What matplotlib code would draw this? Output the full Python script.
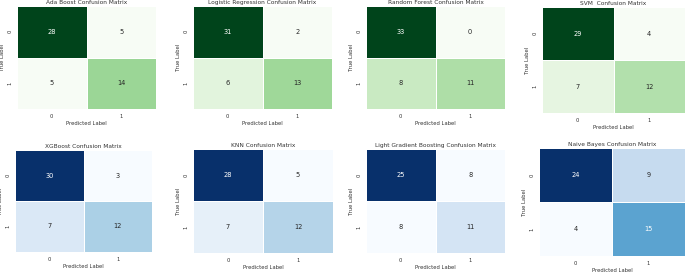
import matplotlib
matplotlib.use('Agg')
import matplotlib.pyplot as plt
import seaborn as sns
import numpy as np

# Confusion matrices: [[TN, FP], [FN, TP]]
models = ['Ada Boost', 'Logistic Regression', 'Random Forest', 'SVM ',
          'XGBoost', 'KNN', 'Light Gradient Boosting', 'Naive Bayes']
ada = [[28, 5], [5, 14]]
logreg = [[31, 2], [6, 13]]
forest = [[33, 0], [8, 11]]
svm = [[29, 4], [7, 12]]
xgb = [[30, 3], [7, 12]]
knn = [[28, 5], [7, 12]]
lgbm = [[25, 8], [8, 11]]
bayes = [[24, 9], [4, 15]]
matrices = [ada, logreg, forest, svm, xgb, knn, lgbm, bayes]
cmaps = ['Greens'] * 4 + ['Blues'] * 4
class_labels = ['0', '1']

W, H = 685, 272
fig = plt.figure(figsize=(W / 100, H / 100), dpi=100)

# heatmap boxes in pixels (left, top, right, bottom)
boxes = [(17, 6, 156, 109), (193, 6, 332, 109), (366, 6, 505, 109), (542, 7, 685, 113),
         (15, 150, 152, 252), (193, 149, 333, 253), (366, 149, 505, 253), (539, 148, 685, 256)]

fs = 3.8
txt = '#333333'
for name, cm, cmap, (l, t, r, b) in zip(models, matrices, cmaps, boxes):
    ax = fig.add_axes([l / W, 1 - b / H, (r - l) / W, (b - t) / H])
    sns.heatmap(np.array(cm), annot=True, fmt='d', cmap=cmap, cbar=False,
                linewidths=0.6, linecolor='white', ax=ax,
                xticklabels=class_labels, yticklabels=class_labels,
                annot_kws={'fontsize': 4.8})
    ax.set_title(f'{name} Confusion Matrix', fontsize=4.2, pad=1.5, color=txt)
    ax.set_xlabel('Predicted Label', fontsize=fs, labelpad=1.5, color=txt)
    ax.set_ylabel('True Label', fontsize=fs, labelpad=1.5, color=txt)
    ax.tick_params(length=0, labelsize=fs, pad=3.5, labelcolor=txt)
    for lab in ax.get_yticklabels():
        lab.set_rotation(90)
        lab.set_va('center')

fig.savefig('out.png', dpi=100)
